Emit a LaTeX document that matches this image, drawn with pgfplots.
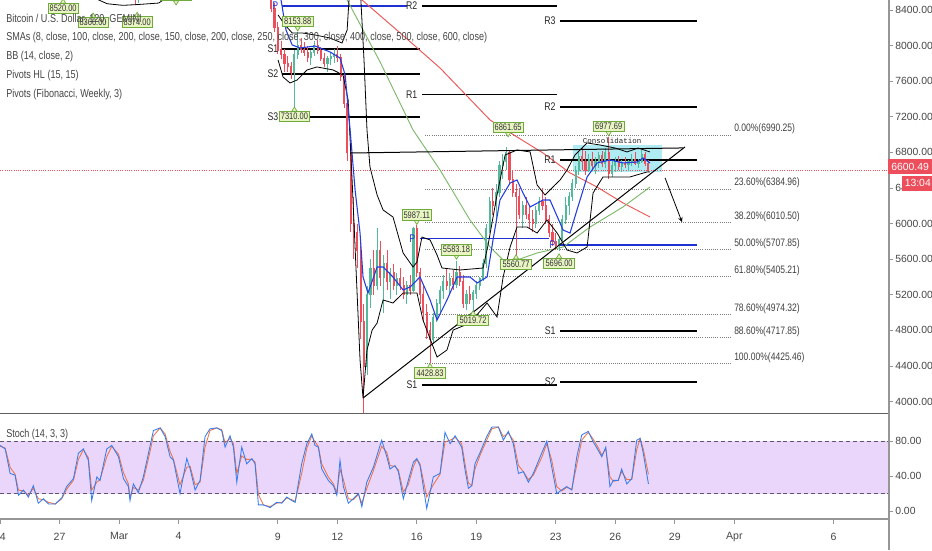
\documentclass[border=0pt]{standalone}
\usepackage{pgfplots}
\pgfplotsset{compat=1.18}
\usepackage{pgfplotstable}
\usepackage{fontspec}
\setmainfont{Liberation Sans}
\newfontfamily\tvfont[FakeStretch=0.79]{Liberation Sans}
\newfontfamily\tvmono{Liberation Mono}
\newcommand\fs[1]{\fontsize{#1pt}{#1pt}\selectfont}

\definecolor{upc}{RGB}{83,185,155}
\definecolor{dnc}{RGB}{236,78,92}
\definecolor{smablue}{RGB}{35,60,225}
\definecolor{smared}{RGB}{238,85,85}
\definecolor{smagreen}{RGB}{125,185,105}
\definecolor{pivblue}{RGB}{30,50,210}
\definecolor{axgray}{RGB}{150,150,150}
\definecolor{sepgray}{RGB}{95,95,95}
\definecolor{txtgray}{RGB}{70,70,70}
\definecolor{stochfill}{RGB}{234,214,251}
\definecolor{stochblue}{RGB}{55,125,240}
\definecolor{stochorange}{RGB}{240,115,70}
\definecolor{stochdash}{RGB}{95,85,110}
\definecolor{hlfill}{RGB}{232,245,195}
\definecolor{hlborder}{RGB}{110,170,60}
\definecolor{consol}{RGB}{160,232,242}
\definecolor{fibgray}{RGB}{125,125,125}

\tikzset{
  hlbox/.style={draw=hlborder, fill=hlfill, line width=0.5pt, inner xsep=1.3pt, inner ysep=1.4pt, font=\tvfont\fs{7.1}, text=black!80},
  pivlab/.style={font=\tvfont\fs{8.3}, text=black!85, anchor=east, inner sep=1pt},
  fiblab/.style={font=\tvfont\fs{8.1}, text=black!75, anchor=base west, inner sep=0pt, yshift=2.6pt},
}
\pgfplotsset{
  candle/.style 2 args={only marks, mark=*, mark size=0.01pt, mark options={draw opacity=0, fill opacity=0}, forget plot,
    error bars/.cd, y dir=both, y explicit, error mark=none,
    error bar style={#1, line width=#2}},
}
\newcommand\hilab[3]{%
  \draw[hlborder, fill=hlfill, line width=0.5pt] (axis cs:#1,#2) -- ++(-2pt,3.2pt) -- ++(4pt,0pt) -- cycle;
  \node[hlbox, anchor=south] at ([yshift=3pt]axis cs:#1,#2) {#3};}
\newcommand\lolab[3]{%
  \draw[hlborder, fill=hlfill, line width=0.5pt] (axis cs:#1,#2) -- ++(-2pt,-3.2pt) -- ++(4pt,0pt) -- cycle;
  \node[hlbox, anchor=north] at ([yshift=-3pt]axis cs:#1,#2) {#3};}

% 4-hour candles, x in days from 1 March 2020 -- rising candles
\pgfplotstableread{
x o h l c
1.000 8520 8600 8480 8580
8.833 7700 7950 7310 7900
9.000 7900 8154 7850 8000
9.667 7870 7950 7780 7920
9.833 7920 8050 7880 8000
10.500 7800 7880 7700 7850
10.667 7850 7930 7780 7880
10.833 7880 7960 7800 7900
12.500 4400 5300 4300 5200
12.667 5200 5600 5050 5500
13.000 5300 5950 5250 5700
13.333 5400 5650 5000 5550
13.667 5350 5500 5150 5450
14.000 5300 5450 5200 5380
14.500 5200 5350 5100 5300
14.833 5250 5960 5230 5940
15.833 4700 5000 4650 4950
16.000 4950 5150 4900 5100
16.167 5100 5300 5000 5250
16.333 5250 5420 5150 5350
16.667 5300 5450 5200 5380
17.000 5320 5583 5280 5450
17.500 5100 5250 5030 5200
17.833 5150 5250 5020 5220
18.000 5220 5350 5150 5300
18.167 5300 5400 5250 5380
18.333 5380 5600 5350 5550
18.500 5550 6000 5500 5950
18.667 5950 6300 5900 6250
19.000 6200 6450 6050 6350
19.167 6350 6700 6300 6650
19.333 6650 6780 6500 6700
19.500 6700 6862 6600 6800
20.333 6100 6250 5950 6200
21.000 6000 6200 5950 6150
21.167 6150 6300 6100 6250
22.167 5750 5850 5696 5820
22.333 5820 6100 5800 6050
22.500 6050 6300 6000 6200
22.667 6200 6350 6100 6300
22.833 6300 6500 6250 6450
23.000 6450 6650 6400 6600
23.167 6600 6800 6550 6750
23.667 6600 6780 6580 6720
24.000 6650 6750 6560 6700
24.167 6700 6800 6620 6760
24.500 6680 6850 6620 6800
24.833 6560 6700 6520 6650
25.000 6650 6750 6580 6700
25.333 6640 6720 6580 6680
25.667 6660 6720 6590 6700
25.833 6700 6780 6650 6720
26.167 6680 6730 6620 6700
26.333 6700 6830 6680 6780
}\upcandles

% falling candles
\pgfplotstableread{
x o h l c
0.833 8650 8700 8470 8520
7.500 8700 8750 8560 8600
7.667 8600 8620 8380 8420
7.833 8420 8480 8150 8200
8.000 8200 8260 7900 7950
8.167 7950 8050 7850 7900
8.333 7900 7960 7700 7800
8.500 7800 7880 7700 7760
8.667 7760 7820 7620 7700
9.167 8000 8080 7920 7960
9.333 7960 8040 7880 7920
9.500 7920 7990 7820 7870
10.000 8000 8060 7900 7940
10.167 7940 7980 7830 7860
10.333 7860 7920 7760 7800
11.000 7900 8000 7820 7870
11.167 7870 7900 7600 7650
11.333 7650 7700 7300 7350
11.500 7350 7400 6700 6800
11.667 6800 6900 5900 6000
11.833 6000 6300 5600 5900
12.000 5900 6000 5500 5700
12.167 5700 5800 4700 4900
12.333 4900 5100 3860 4400
12.833 5500 5700 5200 5300
13.167 5700 5800 5300 5400
13.500 5550 5700 5250 5350
13.833 5450 5550 5250 5300
14.167 5380 5500 5250 5300
14.333 5300 5400 5150 5200
14.667 5300 5420 5200 5250
15.000 5940 5987 5400 5450
15.167 5450 5500 5100 5200
15.333 5200 5300 4900 5000
15.500 5000 5100 4700 4800
15.667 4800 4900 4429 4700
16.500 5350 5500 5250 5300
16.833 5380 5480 5250 5320
17.167 5450 5520 5300 5350
17.333 5350 5420 5050 5100
17.667 5200 5300 5100 5150
18.833 6250 6400 6100 6200
19.667 6800 6830 6450 6500
19.833 6500 6600 6300 6350
20.000 6350 6450 5561 6300
20.167 6300 6400 6050 6100
20.500 6200 6300 6050 6100
20.667 6100 6200 5950 6050
20.833 6050 6150 5900 6000
21.333 6250 6400 6150 6200
21.500 6200 6300 6000 6050
21.667 6050 6100 5850 5900
21.833 5900 6000 5750 5800
22.000 5800 5900 5700 5750
23.333 6750 6850 6600 6700
23.500 6700 6820 6550 6600
23.833 6720 6800 6600 6650
24.333 6760 6820 6640 6680
24.667 6800 6978 6500 6560
25.167 6700 6760 6600 6640
25.500 6680 6750 6620 6660
26.000 6720 6800 6660 6680
26.500 6780 6810 6650 6680
26.667 6680 6720 6580 6600
}\dncandles

% Stochastic %K (k) and %D (d)
\pgfplotstableread{
x k d
-5.99 75 74
-5.74 71 72
-5.49 43 50
-5.24 41 42
-5.07 18 24
-4.82 24 23
-4.57 16 18
-4.32 29 26
-4.07 9 14
-3.81 14 13
-3.56 8 10
-3.22 8 8
-2.89 15 14
-2.64 28 25
-2.30 37 35
-2.05 66 59
-1.80 71 70
-1.55 58 61
-1.38 12 24
-1.12 39 33
-0.96 35 36
-0.62 71 62
-0.37 75 74
-0.03 62 65
0.22 37 44
0.47 28 31
0.55 12 16
0.72 31 27
0.97 21 24
1.22 39 35
1.48 66 60
1.73 92 86
2.07 95 95
2.32 85 88
2.57 62 68
2.74 58 59
3.07 20 30
3.41 60 50
3.58 48 51
3.83 24 30
4.08 35 33
4.33 85 73
4.58 94 92
4.92 95 95
5.17 92 93
5.34 73 78
5.59 86 83
5.76 73 77
5.93 33 43
6.18 73 63
6.43 54 59
6.69 60 59
6.85 54 56
7.02 7 19
7.27 7 7
7.61 4 5
7.94 10 9
8.20 9 10
8.45 16 15
8.70 12 13
8.87 10 11
9.20 54 43
9.46 77 72
9.71 88 86
9.87 75 79
10.04 73 74
10.21 48 54
10.54 35 39
10.80 29 31
10.97 18 21
11.13 58 48
11.30 28 36
11.55 9 14
11.80 14 13
12.06 20 19
12.23 5 9
12.48 33 26
12.81 50 46
13.23 81 74
13.49 62 67
13.65 48 52
13.90 52 51
14.07 45 47
14.32 14 22
14.57 35 30
14.83 56 51
15.00 60 59
15.16 52 54
15.50 3 16
15.83 39 30
16.17 43 42
16.42 90 79
16.68 77 81
16.93 86 84
17.26 73 77
17.43 47 54
17.60 26 32
17.77 29 29
17.93 54 48
18.19 67 64
18.52 85 81
18.78 96 94
19.11 96 96
19.36 81 85
19.61 91 89
19.86 77 81
20.12 43 52
20.37 45 45
20.62 33 36
20.87 43 41
21.29 66 61
21.55 80 77
21.80 50 58
22.05 20 28
22.30 24 23
22.55 28 27
22.81 24 25
23.06 62 53
23.31 87 81
23.64 91 90
23.89 79 82
24.15 69 72
24.32 62 64
24.52 73 71
24.73 28 39
24.90 35 34
25.15 35 35
25.32 48 45
25.58 31 36
25.83 37 36
26.08 81 70
26.25 83 83
26.41 66 71
26.67 31 42
}\stoch

\begin{document}
\begin{tikzpicture}
\useasboundingbox (0pt,0pt) rectangle (699pt,-412.5pt);
\clip (0pt,0pt) rectangle (699pt,-412.5pt);
\fill[white] (0pt,0pt) rectangle (699pt,-412.5pt);

% ===================== main price panel =====================
\begin{axis}[
  at={(0pt,0pt)}, anchor=north west,
  width=666pt, height=309.75pt, scale only axis,
  xmin=-6, xmax=38.74, ymin=3872, ymax=8512,
  axis line style={draw=none},
  xtick=\empty,
  ytick={4000,4400,4800,5200,5600,6000,6400,6800,7200,7600,8000,8400},
  yticklabels={4000.00,4400.00,4800.00,5200.00,5600.00,6000.00,6400.00,6800.00,7200.00,7600.00,8000.00,8400.00},
  yticklabel pos=right, ytick pos=right,
  tick align=outside, major tick length=3.75pt,
  tick style={axgray, line width=0.6pt},
  yticklabel style={font=\fs{7.8}, text=txtgray, xshift=-1.8pt},
  clip=true,
]
% consolidation zone
\fill[consol, fill opacity=0.85] (axis cs:22.87,6580) rectangle (axis cs:27.36,6884);

% Fibonacci retracement levels
\addplot[fibgray, densely dotted, line width=0.6pt] coordinates {(15.42,6990.25) (30.83,6990.25)};
\addplot[fibgray, densely dotted, line width=0.6pt] coordinates {(15.42,6384.96) (30.83,6384.96)};
\addplot[fibgray, densely dotted, line width=0.6pt] coordinates {(15.42,6010.50) (30.83,6010.50)};
\addplot[fibgray, densely dotted, line width=0.6pt] coordinates {(15.42,5707.85) (30.83,5707.85)};
\addplot[fibgray, densely dotted, line width=0.6pt] coordinates {(15.42,5405.21) (30.83,5405.21)};
\addplot[fibgray, densely dotted, line width=0.6pt] coordinates {(15.42,4974.32) (30.83,4974.32)};
\addplot[fibgray, densely dotted, line width=0.6pt] coordinates {(15.42,4717.85) (30.83,4717.85)};
\addplot[fibgray, densely dotted, line width=0.6pt] coordinates {(15.42,4425.46) (30.83,4425.46)};

% weekly Fibonacci pivots
\addplot[pivblue, line width=0.9pt] coordinates {(8.21,8445) (14.5,8445)};
\addplot[black, line width=0.9pt] coordinates {(8.21,7962) (15.16,7962)};
\addplot[black, line width=0.9pt] coordinates {(8.21,7681) (15.16,7681)};
\addplot[black, line width=0.9pt] coordinates {(8.21,7198) (15.16,7198)};
\addplot[black, line width=0.9pt] coordinates {(15.26,8445) (22.07,8445)};
\addplot[black, line width=0.9pt] coordinates {(15.26,7452) (22.07,7452)};
\addplot[pivblue, line width=0.9pt] coordinates {(15.16,5830) (21.65,5830)};
\addplot[black, line width=0.9pt] coordinates {(15.26,4187) (22.07,4187)};
\addplot[black, line width=0.9pt] coordinates {(22.22,8276) (29.12,8276)};
\addplot[black, line width=0.9pt] coordinates {(22.22,7310) (29.12,7310)};
\addplot[black, line width=0.9pt] coordinates {(22.22,6715) (29.12,6715)};
\addplot[pivblue, line width=0.9pt] coordinates {(22.22,5760) (29.12,5760)};
\addplot[black, line width=0.9pt] coordinates {(22.22,4793) (29.12,4793)};
\addplot[black, line width=0.9pt] coordinates {(22.22,4220) (29.12,4220)};

% last price line
\addplot[dnc, densely dotted, line width=0.7pt] coordinates {(-6,6600.49) (38.74,6600.49)};

% long SMAs
\addplot[smared, line width=0.7pt] coordinates {(11.89,8602) (12.24,8512) (14.16,8142) (16.17,7748) (18.69,7164) (20.05,6973) (21.36,6793) (22.72,6569) (24.08,6411) (25.39,6232) (26.75,6074)};
\addplot[smagreen, line width=0.7pt] coordinates {(11.34,8602) (11.49,8512) (13.15,7816) (14.81,7052) (16.17,6602) (17.68,6040) (18.69,5737) (19.35,5591) (20.05,5591) (21.06,5670) (22.37,5737) (23.73,5962) (25.39,6187) (26.75,6411)};

% candles: wicks
\addplot[candle={upc}{0.7pt}]
  table[x=x, y expr={(\thisrow{h}+\thisrow{l})/2}, y error expr={(\thisrow{h}-\thisrow{l})/2}] {\upcandles};
\addplot[candle={dnc}{0.7pt}]
  table[x=x, y expr={(\thisrow{h}+\thisrow{l})/2}, y error expr={(\thisrow{h}-\thisrow{l})/2}] {\dncandles};
% candles: bodies
\addplot[candle={upc}{1.6pt}]
  table[x=x, y expr={(\thisrow{o}+\thisrow{c})/2}, y error expr={(\thisrow{c}-\thisrow{o})/2+6}] {\upcandles};
\addplot[candle={dnc}{1.6pt}]
  table[x=x, y expr={(\thisrow{o}+\thisrow{c})/2}, y error expr={(\thisrow{o}-\thisrow{c})/2+6}] {\dncandles};

% Bollinger bands
\addplot[black, line width=0.6pt] coordinates {(-1.2,8530) (-0.6,8470) (0.2,8452) (1.0,8462) (2.0,8478) (2.4,8540)};
\addplot[black, line width=0.6pt] coordinates {(8.01,8344) (8.36,8231) (8.72,8142) (9.22,8142) (9.87,8119) (10.63,8085) (11.23,8029) (11.49,8175) (11.62,8650)};
\addplot[black, line width=0.6pt] coordinates {(12.15,8650) (12.34,7838) (12.49,7052) (12.64,6636) (13.0,6321) (13.3,6153) (13.8,6074) (14.31,5670) (14.81,5512) (15.01,5569) (15.26,5849) (15.67,5816) (16.02,5647) (16.27,5501) (17.18,5479) (18.34,5501) (18.59,5760) (19.04,6321) (19.45,6771) (20.05,6827) (20.71,6805) (21.06,6434) (21.46,6321) (21.96,6434) (22.22,6490) (22.57,6602) (22.97,6771) (23.58,6906) (24.23,6883) (24.99,6849) (25.59,6805) (26.15,6849) (26.75,6805)};
\addplot[black, line width=0.6pt] coordinates {(8.01,7838) (8.26,7647) (8.61,7580) (8.97,7613) (9.47,7726) (9.97,7760) (10.78,7726) (11.28,7670) (11.54,7389) (11.74,6490) (11.94,5479) (12.14,4467) (12.29,4040) (12.49,4580) (12.75,4804) (13.0,4883) (13.3,5142) (13.8,5108) (14.31,5220) (15.01,5220) (15.31,4917) (16.02,4501) (16.52,4580) (16.83,4804) (17.68,4883) (18.54,5108) (19.04,4951) (19.35,5400) (19.7,5737) (20.05,5962) (20.55,5962) (21.06,5894) (21.56,6040) (22.07,5894) (22.57,5703) (23.07,5670) (23.58,5737) (23.88,6344) (24.38,6524) (24.89,6524) (25.74,6524) (26.6,6580) (26.75,6580)};

% SMA 8
\addplot[smablue, line width=0.8pt] coordinates {(7.9,8650) (8.16,8512) (8.41,8175) (8.72,8007) (9.12,7973) (9.87,7995) (10.63,7928) (11.13,7861) (11.39,7670) (11.64,7052) (11.89,6378) (12.14,5894) (12.29,5400) (12.54,5220) (13.0,5512) (13.3,5512) (13.8,5400) (14.31,5254) (14.66,5288) (15.16,5400) (15.67,5142) (16.02,4917) (16.52,5142) (17.03,5400) (17.68,5400) (18.04,5333) (18.54,5400) (18.84,5816) (19.19,6265) (19.7,6456) (20.05,6490) (20.35,6344) (20.71,6187) (21.36,6265) (21.71,6265) (22.37,5928) (22.72,5894) (23.07,6153) (23.58,6524) (24.08,6681) (24.74,6715) (25.39,6681) (26.1,6692) (26.4,6737) (26.75,6681)};

% drawn trend lines and arrow
\addplot[black, line width=0.75pt] coordinates {(12.29,4040) (28.51,6861)};
\addplot[black, line width=0.75pt] coordinates {(11.64,6793) (28.41,6850)};
\addplot[black, line width=0.6pt, -stealth] coordinates {(27.51,6512) (28.36,6018)};

% pivot labels
\node[pivlab, text=pivblue] at (axis cs:8.1,8445) {P};
\node[pivlab] at (axis cs:8.1,7962) {S1};
\node[pivlab] at (axis cs:8.1,7681) {S2};
\node[pivlab] at (axis cs:8.1,7198) {S3};
\node[pivlab] at (axis cs:15.1,8445) {R2};
\node[pivlab] at (axis cs:15.1,7452) {R1};
\node[pivlab, text=pivblue] at (axis cs:15.0,5830) {P};
\node[pivlab] at (axis cs:15.1,4187) {S1};
\node[pivlab] at (axis cs:22.07,8276) {R3};
\node[pivlab] at (axis cs:22.07,7310) {R2};
\node[pivlab] at (axis cs:22.07,6715) {R1};
\node[pivlab, text=pivblue] at (axis cs:22.07,5760) {P};
\node[pivlab] at (axis cs:22.07,4793) {S1};
\node[pivlab] at (axis cs:22.07,4220) {S2};

% Fibonacci labels
\node[fiblab] at (axis cs:30.98,6990.25) {0.00\%(6990.25)};
\node[fiblab] at (axis cs:30.98,6384.96) {23.60\%(6384.96)};
\node[fiblab] at (axis cs:30.98,6010.50) {38.20\%(6010.50)};
\node[fiblab] at (axis cs:30.98,5707.85) {50.00\%(5707.85)};
\node[fiblab] at (axis cs:30.98,5405.21) {61.80\%(5405.21)};
\node[fiblab] at (axis cs:30.98,4974.32) {78.60\%(4974.32)};
\node[fiblab] at (axis cs:30.98,4717.85) {88.60\%(4717.85)};
\node[fiblab] at (axis cs:30.98,4425.46) {100.00\%(4425.46)};

% consolidation caption
\node[font=\tvmono\fs{5.6}, text=black!85, inner sep=0pt] at (axis cs:24.84,6930) {Consolidation};

% pivot high / low labels
\lolab{-2.82}{8524}{8520.00}
\lolab{-1.31}{8366}{8366.00}
\lolab{0.91}{8374}{8374.00}
\hilab{2.87}{8456}{8790.00}
\hilab{9.0}{8164}{8153.88}
\lolab{8.833}{7310}{7310.00}
\hilab{15.0}{5990}{5987.11}
\hilab{17.0}{5600}{5583.18}
\lolab{17.833}{5020}{5019.72}
\lolab{15.667}{4429}{4428.83}
\hilab{19.6}{6975}{6861.65}
\lolab{20.0}{5650}{5560.77}
\lolab{22.167}{5660}{5696.00}
\hilab{24.667}{6985}{6977.69}
\end{axis}

% ===================== stochastic panel =====================
\begin{axis}[
  at={(0pt,-310.5pt)}, anchor=north west,
  width=666pt, height=78.75pt, scale only axis,
  xmin=-6, xmax=38.74, ymin=-9.1, ymax=110.9,
  axis line style={draw=none},
  xtick={-6,-3,0,3,8,11,15,18,22,25,28,31,36},
  xticklabels={24,27,Mar,4,9,12,16,19,23,26,29,Apr,6},
  ytick={0,40,80}, yticklabels={0.00,40.00,80.00},
  xtick pos=left, ytick pos=right, yticklabel pos=right,
  tick align=outside, major tick length=3.75pt,
  tick style={axgray, line width=0.6pt},
  xticklabel style={font=\fs{7.9}, text=txtgray, yshift=-3pt},
  yticklabel style={font=\fs{7.8}, text=txtgray, xshift=-1.8pt},
  clip=true,
]
\fill[stochfill] (axis cs:-6,20) rectangle (axis cs:38.74,80);
\addplot[stochdash, line width=0.7pt, dash pattern=on 3pt off 2.2pt] coordinates {(-6,80) (38.74,80)};
\addplot[stochdash, line width=0.7pt, dash pattern=on 3pt off 2.2pt] coordinates {(-6,20) (38.74,20)};
\addplot[stochorange, line width=0.65pt] table[x=x, y=d] {\stoch};
\addplot[stochblue, line width=0.65pt] table[x=x, y=k] {\stoch};
\end{axis}

% ===================== frame, tags and legend =====================
\begin{scope}[x=0.75pt, y=-0.75pt]
  \draw[sepgray, line width=1.2pt] (0,413.5) -- (888,413.5);
  \draw[axgray, line width=1.1pt] (0,519) -- (888,519);
  \draw[axgray, line width=1.5pt] (888.6,0) -- (888.6,550);
  \fill[dnc] (888,159) rectangle (932,174);
  \node[font=\fs{7.8}, text=white, inner sep=0pt, anchor=west] at (891,166.5) {6600.49};
  \fill[dnc] (902,175.5) rectangle (932,190.5);
  \node[font=\fs{7.8}, text=white, inner sep=0pt, anchor=west] at (904.5,183) {13:04};
  \begin{scope}[every node/.style={font=\tvfont\fs{8.6}, text=txtgray, anchor=base west, inner sep=0pt}]
    \node at (6,22) {Bitcoin / U.S. Dollar, 120, GEMINI};
    \node at (6,40) {SMAs (8, close, 100, close, 200, close, 150, close, 200, close, 250, close, 300, close, 400, close, 500, close, 600, close)};
    \node at (6,59) {BB (14, close, 2)};
    \node at (6,78) {Pivots HL (15, 15)};
    \node at (6,97) {Pivots (Fibonacci, Weekly, 3)};
    \node at (6,437) {Stoch (14, 3, 3)};
  \end{scope}
\end{scope}
\end{tikzpicture}
\end{document}
